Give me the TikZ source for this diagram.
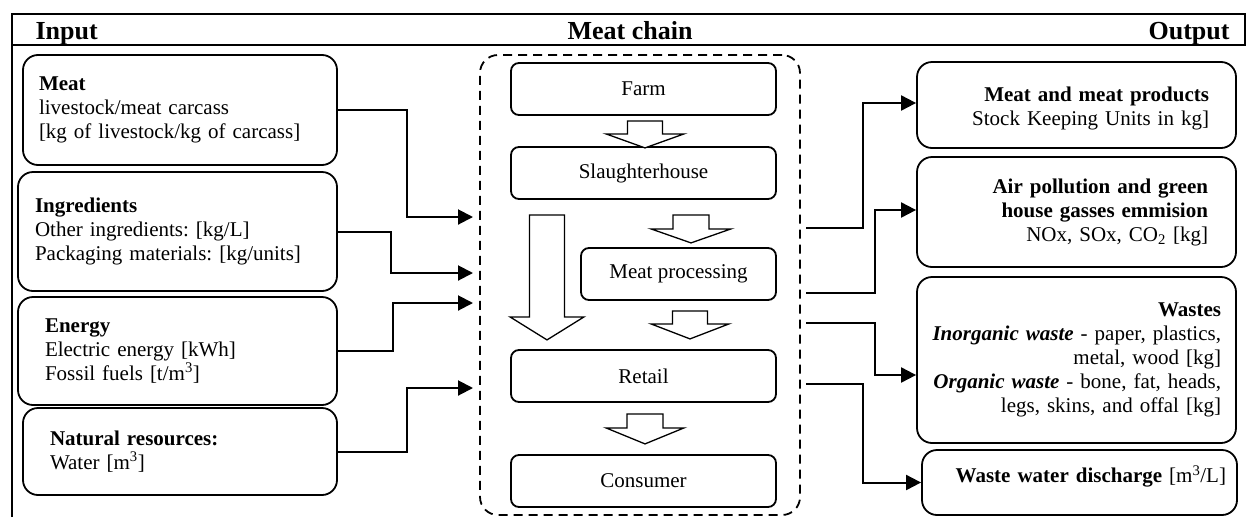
\documentclass[tikz,border=0pt]{standalone}
\usepackage{fontspec}
\setmainfont{Liberation Serif}
\frenchspacing
\usetikzlibrary{positioning, arrows.meta, calc}

\begin{document}
\begin{tikzpicture}[
    x=1pt, y=-1pt,
    >={Triangle[length=15pt, width=15pt]},
    every node/.style={font=\fontsize{21}{24}\selectfont},
    header/.style={font=\fontsize{26}{30}\selectfont\bfseries},
    inbox/.style={
        draw, line width=1.8pt, rounded corners=15pt, align=left
    },
    outbox/.style={
        draw, line width=1.8pt, rounded corners=15pt, align=right
    },
    stage/.style={
        draw, line width=1.8pt, rounded corners=8pt,
        minimum width=265pt, minimum height=52pt, align=center
    },
    chainbox/.style={
        draw, line width=1.8pt, rounded corners=18pt,
        dash pattern=on 9pt off 6pt, minimum width=320pt, minimum height=460pt
    },
    hollow/.style={draw, line width=1.3pt, fill=white, line join=miter},
    flow/.style={->, line width=2pt},
    frame/.style={line width=2pt},
]
\useasboundingbox (0,0) rectangle (1246,517);

% =====================================================================
%  HEADER
% =====================================================================
\draw[frame] (12,517) -- (12,14) -- (1245,14) -- (1245,45) -- (12,45);

\node[header, anchor=base west] (inhead)    at (32,39)   {Input};
\node[header, anchor=base]      (chainhead) at (630,39)  {Meat chain};
\node[header, anchor=base east] (outhead)   at (1233,39) {Output};

% =====================================================================
%  INPUT
% =====================================================================
\node[inbox, minimum height=110pt, inner xsep=16pt, text width=282pt]
    (meat) at (180,110)
    {\textbf{Meat}\\livestock/meat carcass\\{}[kg of livestock/kg of carcass]};
\node[inbox, minimum height=119pt, inner xsep=17pt, text width=285pt]
    (ingr) at (177.5,231.5)
    {\textbf{Ingredients}\\Other ingredients: [kg/L]\\Packaging materials: [kg/units]};
\node[inbox, minimum height=108pt, inner xsep=27pt, text width=265pt]
    (energy) at (177.5,351)
    {\textbf{Energy}\\Electric energy [kWh]\\Fossil fuels [t/m\textsuperscript{3}]};
\node[inbox, minimum height=87pt, inner xsep=27pt, text width=260pt]
    (natural) at (180,451.5)
    {\textbf{Natural resources:}\\Water [m\textsuperscript{3}]};

% =====================================================================
%  MEAT CHAIN
% =====================================================================
\node[chainbox] (chain) at (640,285) {};

\node[stage] (farm)      at (643.5,89)  {Farm};
\node[stage] (slaughter) at (643.5,173) {Slaughterhouse};
\node[stage, minimum width=195pt] (meatproc) at (678.5,274) {Meat processing};
\node[stage] (retail)    at (643.5,376) {Retail};
\node[stage] (consumer)  at (643.5,481) {Consumer};

% Hollow flow arrows
\draw[hollow] ($(farm.south)+(-16,5)$) -- ++(35,0) -- ++(0,13) -- ++(21.5,0)
    -- ++(-39,14) -- ++(-39,-14) -- ++(21.5,0) -- cycle;
\draw[hollow] ($(slaughter.south)+(29.5,15)$) -- ++(36,0) -- ++(0,14) -- ++(22,0)
    -- ++(-40,14) -- ++(-40,-14) -- ++(22,0) -- cycle;
\draw[hollow] ($(slaughter.south)+(-114,15)$) -- ++(35,0) -- ++(0,102) -- ++(19.5,0)
    -- ++(-37,23) -- ++(-37,-23) -- ++(19.5,0) -- cycle;
\draw[hollow] ($(meatproc.south)+(-6,10)$) -- ++(35,0) -- ++(0,13) -- ++(21.5,0)
    -- ++(-39,15) -- ++(-39,-15) -- ++(21.5,0) -- cycle;
\draw[hollow] ($(retail.south)+(-16.5,11)$) -- ++(36,0) -- ++(0,14) -- ++(21,0)
    -- ++(-39,16) -- ++(-39,-16) -- ++(21,0) -- cycle;

% =====================================================================
%  OUTPUT
% =====================================================================
\node[outbox, minimum height=86pt, inner xsep=27pt, text width=265pt, text depth=21pt]
    (prod) at (1076.5,105)
    {\textbf{Meat and meat products}\\Stock Keeping Units in kg]};
\node[outbox, minimum height=110pt, inner xsep=28pt, text width=263pt]
    (air) at (1076.5,212)
    {\textbf{Air pollution and green}\\\textbf{house gasses emmision}\\NOx, SOx, CO\textsubscript{2} [kg]};
\node[outbox, minimum height=166pt, inner xsep=15pt, text width=289pt]
    (waste) at (1076.5,360)
    {\textbf{Wastes}\\\textbf{\textit{Inorganic waste}} - paper, plastics,\\metal, wood [kg]\\
     \textbf{\textit{Organic waste}} - bone, fat, heads,\\legs, skins, and offal [kg]};
\node[outbox, minimum height=65pt, inner xsep=11pt, text width=293pt, text depth=17pt]
    (water) at (1079.5,482.5)
    {\textbf{Waste water discharge} [m\textsuperscript{3}/L]};

% =====================================================================
%  CONNECTORS
% =====================================================================
\coordinate (in1) at (473,217);
\coordinate (in2) at (473,273);
\coordinate (in3) at (473,303);
\coordinate (in4) at (473,388);

\draw[flow] (meat.east)    -- ++(69,0) |- (in1);
\draw[flow] (ingr.east)    -- ++(53,0) |- (in2);
\draw[flow] (energy.east)  -- ++(55,0) |- (in3);
\draw[flow] (natural.east) -- ++(69,0) |- (in4);

\coordinate (out1) at (806,228);
\coordinate (out2) at (806,293);
\coordinate (out3) at (806,323);
\coordinate (out4) at (806,384);

\draw[flow] (out1) -- ++(57,0) |- ([yshift=2pt]prod.west);
\draw[flow] (out2) -- ++(69,0) |- ([yshift=2pt]air.west);
\draw[flow] (out3) -- ++(69,0) |- ([yshift=-15pt]waste.west);
\draw[flow] (out4) -- ++(57,0) |- (water.west);

\end{tikzpicture}
\end{document}
